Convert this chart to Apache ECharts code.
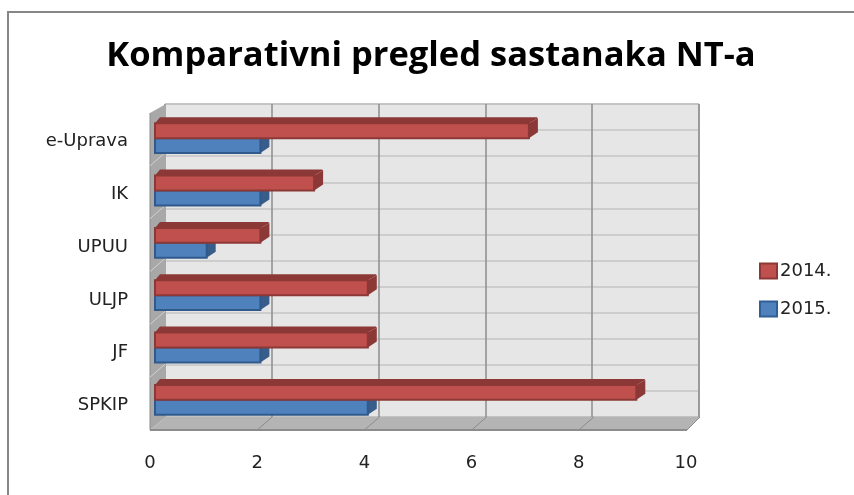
<!DOCTYPE html>
<html>
<head>
<meta charset="utf-8">
<style>
html,body{margin:0;padding:0;background:#fff;}
#main{width:854px;height:495px;}
</style>
<script src="https://cdn.jsdelivr.net/npm/echarts@6/dist/echarts.min.js"></script>
</head>
<body>
<div id="main"></div>
<script>
var categories = ['SPKIP','JF','ULJP','UPUU','IK','e-Uprava'];
var values2014 = [9,4,4,2,3,7];
var values2015 = [4,2,2,1,2,2];
var xTicks = [0,2,4,6,8,10];
var labelFont = 'DejaVu Sans';

// depth of the fake 3d bars, px
var depthX = 9, depthY = 6;

function bar3d(front,side,top,edge,dir){
	return function(params,api){
		var v = api.value(0);
		var start = api.coord([0,api.value(1)]);
		var end = api.coord([v,api.value(1)]);
		var h = api.size([0,1])[1]*0.285;
		var y0 = dir<0 ? start[1]-h : start[1];
		var x0 = start[0]+2, x1 = end[0];
		return {
			type:'group',
			children:[
				{type:'polygon',shape:{points:[[x0,y0],[x0+5,y0-depthY],[x1+depthX-1,y0-depthY],[x1+depthX,y0-depthY+1],[x1,y0]]},style:{fill:top}},
				{type:'polygon',shape:{points:[[x1,y0],[x1+depthX,y0-depthY+1],[x1+depthX,y0+h-depthY],[x1,y0+h]]},style:{fill:side}},
				{type:'rect',shape:{x:x0,y:y0,width:x1-x0,height:h},style:{fill:front,stroke:edge,lineWidth:2}}
			]
		};
	};
}

// wall and floor between the back grid and the front plane
function walls(params,api){
	var c = params.coordSys;
	var bx = 15, by = 13;
	var l = c.x, r = c.x+c.width, t = c.y, b = c.y+c.height;
	var kids = [
		{type:'polygon',shape:{points:[[l,t],[l+bx+1,t-9],[l+bx+1,b-by],[l,b]]},style:{fill:'#a8a8a8'}},
		{type:'polygon',shape:{points:[[l,b],[l+bx+1,b-by],[r+14,b-by],[r+1,b]]},style:{fill:'#b4b4b4'}},
		{type:'line',shape:{x1:l,y1:b,x2:r+1,y2:b},style:{stroke:'#8c8c8c',lineWidth:2}},
		{type:'line',shape:{x1:l,y1:t,x2:l,y2:b},style:{stroke:'#8c8c8c',lineWidth:1}},
		{type:'line',shape:{x1:r+1,y1:b,x2:r+14,y2:b-by},style:{stroke:'#8c8c8c',lineWidth:1}}
	];
	var i;
	for(i=1;i<6;i++){
		var y = t+(b-t)*i/6;
		kids.push({type:'line',shape:{x1:l,y1:y,x2:l+bx,y2:y-by},style:{stroke:'#d0d0d0',lineWidth:1}});
	}
	for(i=1;i<5;i++){
		var x = l+(r-l)*i/5;
		kids.push({type:'line',shape:{x1:x,y1:b,x2:x+bx,y2:b-by},style:{stroke:'#8c8c8c',lineWidth:1}});
	}
	return {type:'group',children:kids};
}

var myChart = echarts.init(document.getElementById('main'));
var option = {
	backgroundColor:'#fff',
	animation:false,
	textStyle:{fontFamily:labelFont},
	title:{
		text:'Komparativni pregled sastanaka NT-a',
		left:426,top:34,textAlign:'center',
		textStyle:{fontFamily:'Open Sans',fontSize:34.5,fontWeight:'bold',color:'#000'}
	},
	legend:{
		orient:'vertical',left:754,top:257,itemWidth:17,itemHeight:15,itemGap:20,icon:'rect',
		data:['2014.','2015.'],
		textStyle:{fontFamily:labelFont,fontSize:18,color:'#222',padding:[0,0,0,-2]}
	},
	graphic:[
		{type:'polyline',z:-1,silent:true,
			shape:{points:[[8,495],[8,12],[854,12]]},
			style:{fill:'none',stroke:'#868686',lineWidth:2}}
	],
	grid:[
		{left:165,top:104,width:534,height:313,show:true,backgroundColor:'#e6e6e6',borderColor:'#999',borderWidth:1},
		{left:150,top:113,width:536,height:317},
		{left:153,top:112,width:537,height:314},
		{left:150,top:115,width:536,height:317}
	],
	xAxis:[
		{gridIndex:0,type:'value',min:0,max:10,interval:2,axisLine:{show:false},axisTick:{show:false},axisLabel:{show:false},
			splitLine:{show:true,lineStyle:{color:'#8c8c8c',width:1.5}}},
		{gridIndex:1,type:'value',min:0,max:10,interval:2,axisLine:{show:false},axisTick:{show:false},splitLine:{show:false},
			axisLabel:{margin:24,fontFamily:labelFont,fontSize:18,color:'#222',
				customValues:xTicks}},
		{gridIndex:2,type:'value',min:0,max:10,show:false},
		{gridIndex:3,type:'value',min:0,max:10,show:false}
	],
	yAxis:[
		{gridIndex:0,type:'value',min:0,max:12,interval:1,axisLine:{show:false},axisTick:{show:false},axisLabel:{show:false},
			splitLine:{show:true,lineStyle:{color:'#c4c4c4',width:1.5}}},
		{gridIndex:1,type:'category',data:categories,show:false},
		{gridIndex:2,type:'category',data:categories,show:false},
		{gridIndex:3,type:'category',data:categories,axisLine:{show:false},axisTick:{show:false},splitLine:{show:false},
			axisLabel:{margin:22,fontFamily:labelFont,fontSize:18,color:'#222'}}
	],
	series:[
		{name:'walls',type:'custom',xAxisIndex:1,yAxisIndex:1,z:2,silent:true,renderItem:walls,data:[[0,0]]},
		{name:'2015.',type:'custom',xAxisIndex:2,yAxisIndex:2,z:3,
			itemStyle:{color:'#4f81bd',borderColor:'#2f5f95',borderWidth:3},
			renderItem:bar3d('#4f81bd','#385d8a','#385d8a','#30598c',1),
			encode:{x:0,y:1},
			data:values2015.map(function(v,i){return [v,i];})},
		{name:'2014.',type:'custom',xAxisIndex:2,yAxisIndex:2,z:4,
			itemStyle:{color:'#c0504d',borderColor:'#8c3836',borderWidth:3},
			renderItem:bar3d('#c0504d','#8c3836','#8c3836','#8c3836',-1),
			encode:{x:0,y:1},
			data:values2014.map(function(v,i){return [v,i];})}
	]
};
myChart.setOption(option);
</script>
</body>
</html>
